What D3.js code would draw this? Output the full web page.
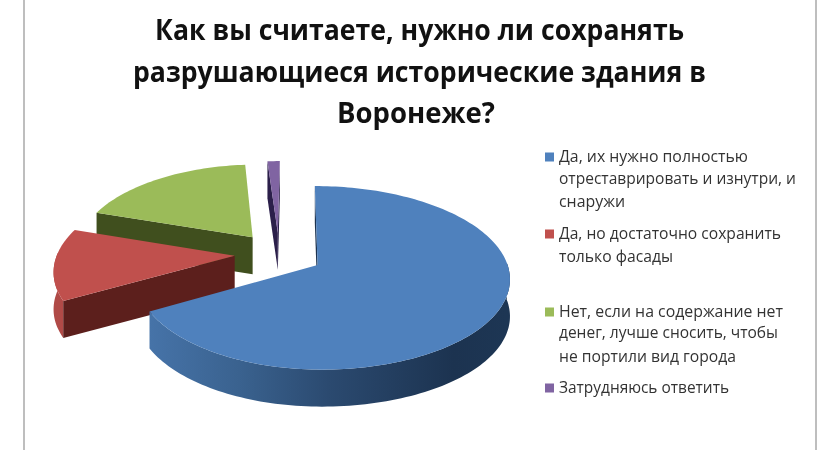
<!DOCTYPE html>
<html><head><meta charset="utf-8">
<script src="https://cdn.jsdelivr.net/npm/d3@7/dist/d3.min.js"></script>
<style>html,body{margin:0;padding:0;background:#fff;overflow:hidden}svg{display:block;filter:blur(.45px)}</style>
</head><body><svg id="c" width="840" height="450"></svg>
<script>
const titleLines = ["Как вы считаете, нужно ли сохранять","разрушающиеся исторические здания в","Воронеже?"];
const categories = ["Да, их нужно полностью отреставрировать и изнутри, и снаружи","Да, но достаточно сохранить только фасады","Нет, если на содержание нет денег, лучше сносить, чтобы не портили вид города","Затрудняюсь ответить"];
const legendLines = [["Да, их нужно полностью","отреставрировать и изнутри, и","снаружи"],["Да, но достаточно сохранить","только фасады"],["Нет, если на содержание нет","денег, лучше сносить, чтобы","не портили вид города"],["Затрудняюсь ответить"]];
const values = [67,13,18.7,1.3];
const topColors = ["#4f81bd","#c0504d","#9bbb59","#8064a2"];
const cutColors = ["#1c3350","#5c1f1c","#404f1e","#2b1f4a"];
const rimColors = ["url(#blueRim)","#b04a47","#5f7536","#4b3a63"];

const svg = d3.select("#c");
const defs = svg.append("defs");
const g = defs.append("linearGradient").attr("id","blueRim").attr("gradientUnits","userSpaceOnUse")
  .attr("x1",150).attr("x2",507).attr("y1",0).attr("y2",0);
[[0,"#4673a8"],[.25,"#3a628f"],[.5,"#2b4a70"],[.85,"#1c3350"],[1,"#1d3654"]].forEach(s=>g.append("stop").attr("offset",s[0]).attr("stop-color",s[1]));

// frame
[24,816].forEach(x=>svg.append("line").attr("x1",x).attr("x2",x).attr("y1",0).attr("y2",450).attr("stroke","#a8a8a8").attr("stroke-width",1.5));

// title
const titleFont = "'Open Sans','Noto Sans',sans-serif";
const titleLayout = [[155,684,40],[133,706,82],[337,495,123]];
titleLines.forEach((t,i)=>{
  const [a,b,y]=titleLayout[i];
  svg.append("text").text(t).attr("x",a).attr("y",y).attr("textLength",b-a).attr("lengthAdjust","spacingAndGlyphs")
    .attr("font-family",titleFont).attr("font-weight",700).attr("font-size",29).attr("fill","#111");
});

// 3D pie: disc coordinates -> screen through a projective map
const pie = d3.pie().sort(null).value(d=>d)(values);
const explode = .25, k = .14, depth = 37;
const blueMid = (pie[0].startAngle+pie[0].endAngle)/2;
const originU = -explode*Math.sin(blueMid), originV = -explode*Math.cos(blueMid);
const sx = d3.scaleLinear().domain([-1,0,1]).range([-158,22.6,212.6]);
const sy = d3.scaleLinear().domain([0,1]).range([0,-90]);
const project = (U,V,dz=0)=>{const s=1+k*V;return [295+sx(U)/s,265+sy(V)/s+dz];};
const line = d3.line();

function slicePaths(d){
  const mid=(d.startAngle+d.endAngle)/2;
  const cU=originU+explode*Math.sin(mid), cV=originV+explode*Math.cos(mid);
  const n=Math.max(3,Math.ceil((d.endAngle-d.startAngle)*40));
  const angles=d3.range(n+1).map(i=>d.startAngle+(d.endAngle-d.startAngle)*i/n);
  const arc=angles.map(a=>[cU+Math.sin(a),cV+Math.cos(a)]);
  const front=angles.filter(a=>Math.cos(a)<.05).map(a=>[cU+Math.sin(a),cV+Math.cos(a)]);
  return {c:[cU,cV],arc,front};
}
const P=(p,dz)=>project(p[0],p[1],dz);
const wall=(a,b)=>[P(a,0),P(b,0),P(b,depth),P(a,depth)];

[3,2,1,0].forEach(i=>{
  const {c,arc,front}=slicePaths(pie[i]);
  const G=svg.append("g").attr("class","slice");
  // outer wall, facing side only
  if(front.length>1){
    const rim=front.map(p=>P(p,0)).concat(front.slice().reverse().map(p=>P(p,depth)));
    G.append("path").attr("d",line(rim)+"Z").attr("fill",rimColors[i]);
  }
  // cut faces, only those turned to the viewer
  const a0=arc[0], a1=arc[arc.length-1];
  if(P(a0,0)[0]<P(c,0)[0]) G.append("path").attr("d",line(wall(c,a0))+"Z").attr("fill",cutColors[i]);
  if(P(a1,0)[0]>P(c,0)[0]) G.append("path").attr("d",line(wall(c,a1))+"Z").attr("fill",cutColors[i]);
  // top
  G.append("path").attr("d",line([P(c,0)].concat(arc.map(p=>P(p,0))))+"Z").attr("fill",topColors[i]);
});

// legend
const legendFont = "'Open Sans','Noto Sans',sans-serif";
const legendYs = [[162,184,207],[239,262],[317,338,362],[393]];
const legendWidths = [[189,237,66],[222,114],[224,219,177],[170]];
legendLines.forEach((ls,i)=>{
  svg.append("rect").attr("x",545).attr("y",legendYs[i][0]-9.5).attr("width",9).attr("height",9).attr("fill",topColors[i]);
  ls.forEach((t,j)=>svg.append("text").text(t).attr("x",559).attr("y",legendYs[i][j])
    .attr("textLength",legendWidths[i][j]).attr("lengthAdjust","spacingAndGlyphs")
    .attr("font-family",legendFont).attr("font-size",15.5).attr("fill","#333"));
});
</script></body></html>
